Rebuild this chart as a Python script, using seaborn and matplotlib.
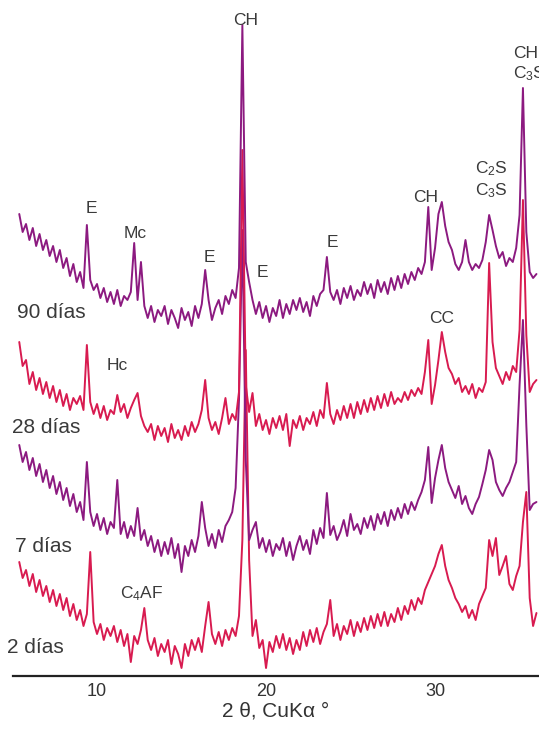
import numpy as np
import pandas as pd
import matplotlib
matplotlib.use("Agg")
import matplotlib.pyplot as plt
from matplotlib.ticker import MultipleLocator, FixedLocator
import seaborn as sns

# ---------------- data ----------------
two_theta = np.round(np.arange(5.4, 36.01, 0.2), 1)   # 2θ grid, degrees

samples = ["2 días", "7 días", "28 días", "90 días"]
offsets = [0, 100, 220, 340]                          # vertical stacking (a.u.)
colors = ["#D81B50", "#8C1A80", "#D81B50", "#8C1A80"]

i_2d = [
    114, 98, 106,
    90, 102, 84, 96, 80,
    90, 74, 86, 70, 82,
    66, 78, 60, 72, 56,
    66, 50, 62, 124, 54,
    42, 52, 36, 48, 40,
    50, 34, 46, 30, 42,
    14, 40, 32, 46, 68,
    36, 26, 38, 20, 32,
    24, 36, 12, 30, 22,
    8, 32, 20, 36, 26,
    38, 24, 50, 74, 42,
    32, 44, 30, 46, 36,
    48, 40, 60, 136, 326,
    116, 40, 56, 28, 36,
    8, 34, 24, 40, 28,
    42, 26, 38, 22, 36,
    26, 44, 30, 46, 34,
    48, 32, 44, 52, 76,
    40, 52, 36, 50, 42,
    56, 40, 54, 44, 58,
    46, 60, 48, 62, 50,
    64, 50, 62, 54, 68,
    56, 70, 62, 76, 66,
    78, 72, 86, 94, 102,
    110, 122, 131, 110, 96,
    88, 78, 72, 64, 70,
    58, 66, 56, 72, 80,
    88, 136, 120, 138, 101,
    110, 120, 92, 86, 100,
    110, 154, 184, 78, 50,
    63]

i_7d = [
    131, 114, 124,
    106, 118, 100, 112, 94,
    106, 88, 100, 82, 94,
    76, 88, 70, 82, 64,
    74, 56, 114, 64, 50,
    62, 46, 58, 42, 54,
    48, 96, 42, 54, 38,
    50, 40, 68, 36, 46,
    30, 40, 24, 36, 20,
    34, 22, 38, 18, 32,
    4, 30, 20, 36, 24,
    40, 74, 48, 30, 42,
    28, 46, 34, 50, 56,
    64, 88, 176, 346, 116,
    36, 46, 54, 28, 38,
    24, 36, 20, 32, 26,
    38, 20, 34, 16, 30,
    40, 26, 36, 22, 46,
    32, 48, 38, 83, 41,
    50, 36, 44, 56, 40,
    62, 46, 52, 42, 58,
    48, 60, 46, 62, 52,
    64, 50, 66, 56, 68,
    58, 72, 62, 74, 66,
    76, 84, 96, 129, 73,
    98, 116, 131, 108, 94,
    86, 78, 90, 72, 80,
    68, 62, 72, 79, 92,
    106, 126, 116, 94, 86,
    80, 88, 94, 104, 114,
    191, 256, 151, 66, 72,
    74]

i_28d = [
    114, 90, 96,
    72, 84, 66, 78, 62,
    74, 58, 70, 54, 66,
    50, 62, 46, 58, 52,
    60, 46, 111, 54, 42,
    52, 38, 50, 36, 46,
    42, 61, 44, 52, 38,
    48, 56, 63, 40, 30,
    24, 32, 16, 30, 20,
    28, 14, 32, 18, 26,
    16, 30, 20, 34, 24,
    32, 46, 76, 38, 26,
    34, 22, 38, 58, 32,
    42, 36, 64, 306, 71,
    44, 63, 30, 42, 26,
    36, 22, 38, 28, 40,
    26, 42, 10, 36, 28,
    40, 26, 38, 32, 44,
    30, 46, 38, 73, 42,
    32, 46, 36, 50, 38,
    52, 38, 54, 42, 56,
    44, 58, 46, 60, 48,
    62, 50, 64, 52, 58,
    54, 64, 56, 66, 60,
    68, 62, 84, 116, 52,
    71, 96, 124, 104, 88,
    82, 72, 78, 64, 70,
    62, 72, 58, 68, 64,
    74, 193, 114, 88, 80,
    72, 84, 76, 90, 84,
    126, 256, 121, 64, 72,
    76]

i_90d = [
    122, 104, 112,
    96, 108, 90, 102, 86,
    96, 80, 90, 74, 86,
    68, 78, 60, 72, 54,
    64, 48, 111, 56, 46,
    52, 38, 48, 34, 44,
    32, 46, 30, 40, 36,
    44, 93, 36, 74, 30,
    18, 30, 14, 26, 20,
    30, 12, 26, 18, 8,
    28, 16, 24, 10, 30,
    18, 32, 66, 36, 16,
    28, 36, 22, 40, 32,
    46, 38, 68, 311, 74,
    54, 36, 22, 34, 18,
    30, 14, 28, 20, 36,
    18, 32, 22, 36, 26,
    38, 24, 34, 20, 40,
    30, 42, 46, 79, 44,
    36, 46, 32, 48, 38,
    50, 36, 46, 40, 54,
    42, 52, 38, 56, 44,
    54, 42, 58, 46, 60,
    48, 62, 52, 64, 56,
    68, 62, 74, 129, 66,
    88, 122, 134, 110, 94,
    86, 72, 66, 74, 96,
    74, 66, 72, 68, 76,
    94, 121, 106, 90, 78,
    84, 70, 78, 74, 88,
    121, 248, 104, 64, 58,
    62]

intensities = [i_2d, i_7d, i_28d, i_90d]

# phase labels: (text, 2θ, height)
phase_labels = [
    ("CH", 18.8, 651),
    ("E", 9.64, 463),
    ("Mc", 12.25, 438),
    ("E", 16.63, 414),
    ("E", 19.76, 399),
    ("E", 23.91, 429),
    ("CH", 29.47, 474),
    ("C$_{\\mathrm{2}}$S", 33.31, 503),
    ("C$_{\\mathrm{3}}$S", 33.31, 481),
    ("Hc", 11.18, 306),
    ("CC", 30.36, 353),
    ("C$_{\\mathrm{4}}$AF", 12.66, 78),
]
right_labels = [("CH", 34.62, 618), ("C$_{\\mathrm{3}}$S", 34.62, 598)]
sample_label_pos = [(4.67, 23), (5.15, 124), (4.97, 243), (5.27, 358)]

# ---------------- build long table ----------------
frames = []
for name, off, vals in zip(samples, offsets, intensities):
    frames.append(pd.DataFrame({"2theta": two_theta,
                                "I": np.asarray(vals, float) + off,
                                "muestra": name}))
df = pd.concat(frames, ignore_index=True)

# ---------------- plot ----------------
sns.set_style("white")
plt.rcParams["font.family"] = ["Liberation Sans", "DejaVu Sans"]
plt.rcParams["mathtext.fontset"] = "custom"
plt.rcParams["mathtext.rm"] = "Liberation Sans"
plt.rcParams["mathtext.it"] = "Liberation Sans:italic"

fig = plt.figure(figsize=(5.39, 7.29), dpi=100)
ax = fig.add_axes([12.5 / 539, 53 / 729, 1 - 12.5 / 539, 676 / 729])

palette = dict(zip(samples, colors))
sns.lineplot(data=df, x="2theta", y="I", hue="muestra", hue_order=samples,
             palette=palette, estimator=None, sort=False, legend=False,
             linewidth=1.4, ax=ax)

ax.set_xlim(5.0, 36.15)
ax.set_ylim(0, 676)

for s in ["left", "right", "top"]:
    ax.spines[s].set_visible(False)
ax.spines["bottom"].set_linewidth(1.6)
ax.spines["bottom"].set_color("#222222")

ax.xaxis.set_major_locator(FixedLocator([10, 20, 30]))
ax.xaxis.set_minor_locator(MultipleLocator(1))
ax.tick_params(axis="x", which="major", direction="in", length=12, width=1.2,
               color="#333333", labelsize=13, labelcolor="#333333", pad=5)
ax.tick_params(axis="x", which="minor", direction="in", length=5, width=1.0,
               color="#333333")
ax.set_yticks([])
ax.set_ylabel("")
ax.set_xlabel("2 θ, CuKα °", fontsize=15, color="#333333", labelpad=1)

txt_color = "#3a3a3a"
for t, x, y in phase_labels:
    ax.text(x, y, t, ha="center", va="baseline", fontsize=12.5, color=txt_color)
for t, x, y in right_labels:
    ax.text(x, y, t, ha="left", va="baseline", fontsize=12.5, color=txt_color,
            clip_on=False)
for name, (x, y) in zip(samples, sample_label_pos):
    ax.text(x, y, name, ha="left", va="baseline", fontsize=15, color=txt_color,
            clip_on=False)

fig.savefig("out.png", dpi=100)
